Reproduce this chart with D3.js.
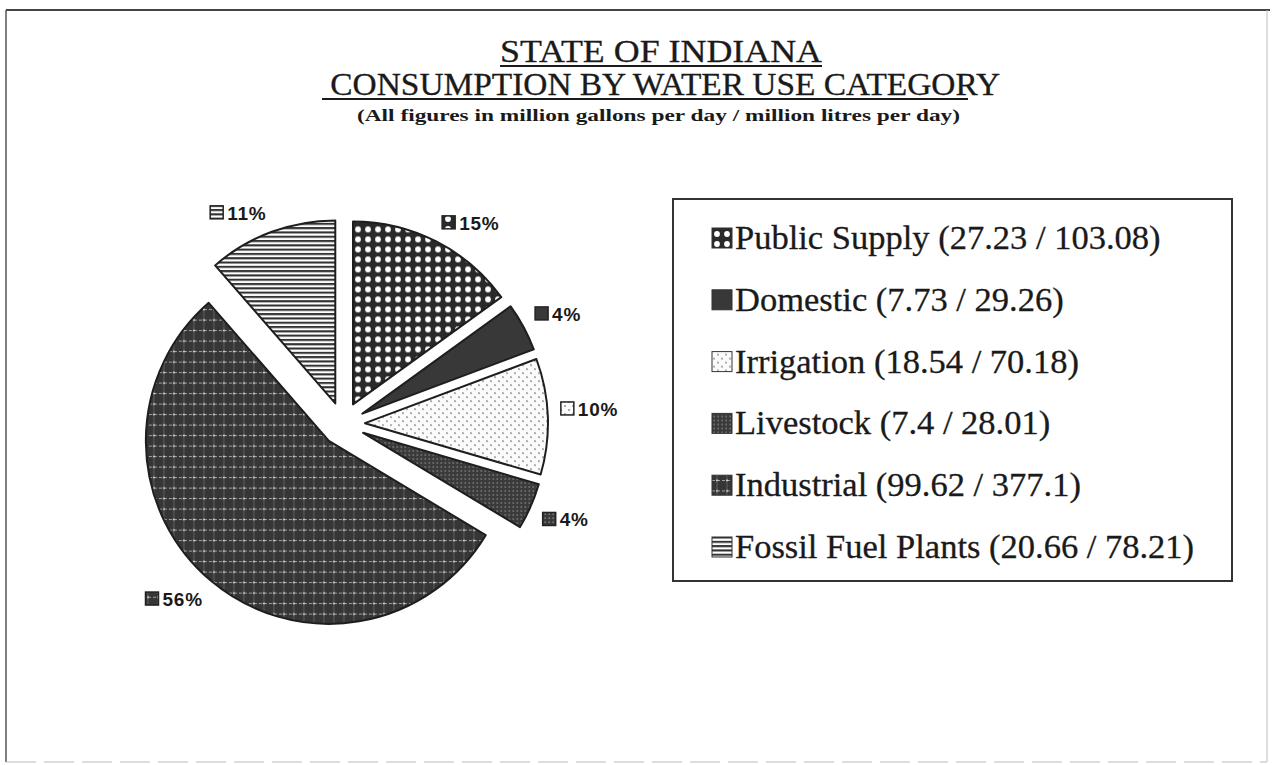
<!DOCTYPE html>
<html>
<head>
<meta charset="utf-8">
<script src="https://cdn.jsdelivr.net/npm/d3@7"></script>
<style>
  html, body { margin: 0; padding: 0; background: #fff; }
  svg { display: block; }
</style>
</head>
<body>
<svg id="chart" width="1273" height="765"></svg>
<script>
// ---- data ----
const categories = ["Public Supply", "Domestic", "Irrigation", "Livestock", "Industrial", "Fossil Fuel Plants"];
const gallonsPerDay = [27.23, 7.73, 18.54, 7.4, 99.62, 20.66];   // million gallons per day
const litresPerDay = [103.08, 29.26, 70.18, 28.01, 377.1, 78.21]; // million litres per day
const percentLabels = ["15%", "4%", "10%", "4%", "56%", "11%"];
const patternIds = ["pPublic", "pDomestic", "pIrrigation", "pLivestock", "pIndustrial", "pFossil"];
const titleLines = ["STATE OF INDIANA", " CONSUMPTION BY WATER USE CATEGORY"];
const subtitle = "(All figures in million gallons per day / million litres per day)";

const data = categories.map((c, i) => ({
  name: c, gal: gallonsPerDay[i], lit: litresPerDay[i], pct: percentLabels[i], pat: patternIds[i]
}));

const svg = d3.select("#chart");
const ink = "#1a1a1a";

// ---- patterns ----
const defs = svg.append("defs");
function pat(id, w, h) {
  return defs.append("pattern").attr("id", id).attr("patternUnits", "userSpaceOnUse")
    .attr("width", w).attr("height", h);
}
let p = pat("pPublic", 10, 10);
p.append("rect").attr("width", 10).attr("height", 10).attr("fill", "#2a2a2a");
p.append("circle").attr("cx", 5).attr("cy", 5).attr("r", 2.9).attr("fill", "#fff");
p = pat("pDomestic", 10, 10);
p.append("rect").attr("width", 10).attr("height", 10).attr("fill", "#383838");
p = pat("pIrrigation", 8, 8);
p.append("rect").attr("width", 8).attr("height", 8).attr("fill", "#fbfbfb");
p.append("circle").attr("cx", 2).attr("cy", 2).attr("r", 0.9).attr("fill", "#8a8a8a");
p.append("circle").attr("cx", 6).attr("cy", 6).attr("r", 0.9).attr("fill", "#8a8a8a");
p = pat("pLivestock", 4, 4);
p.append("rect").attr("width", 4).attr("height", 4).attr("fill", "#3a3a3a");
p.append("rect").attr("x", 1.5).attr("y", 1.5).attr("width", 1.3).attr("height", 1.3).attr("fill", "#9a9a9a");
p = pat("pIndustrial", 10, 10.5);
p.append("rect").attr("width", 10).attr("height", 10.5).attr("fill", "#363636");
p.append("line").attr("x1", 0).attr("x2", 10).attr("y1", 5.2).attr("y2", 5.2)
  .attr("stroke", "#a8a8a8").attr("stroke-width", 1).attr("stroke-dasharray", "3,2");
p.append("line").attr("x1", 5).attr("x2", 5).attr("y1", 0).attr("y2", 10.5)
  .attr("stroke", "#6a6a6a").attr("stroke-width", 0.8);
p.append("rect").attr("x", 4.2).attr("y", 4.4).attr("width", 1.6).attr("height", 1.6).attr("fill", "#eee");
p = pat("pFossil", 10, 4.3);
p.append("rect").attr("width", 10).attr("height", 4.3).attr("fill", "#fff");
p.append("rect").attr("y", 0).attr("width", 10).attr("height", 2.1).attr("fill", "#333");

// ---- frame ----
svg.append("line").attr("x1", 6).attr("x2", 1270).attr("y1", 10).attr("y2", 10)
  .attr("stroke", "#444").attr("stroke-width", 2);
svg.append("line").attr("x1", 6).attr("x2", 6).attr("y1", 10).attr("y2", 762)
  .attr("stroke", "#555").attr("stroke-width", 1.5);
svg.append("line").attr("x1", 1267).attr("x2", 1267).attr("y1", 10).attr("y2", 762)
  .attr("stroke", "#bbb").attr("stroke-width", 1);
svg.append("line").attr("x1", 6).attr("x2", 1267).attr("y1", 762).attr("y2", 762)
  .attr("stroke", "#bbb").attr("stroke-width", 1).attr("stroke-dasharray", "30,8");

// ---- titles ----
const serif = "'Liberation Serif', 'Times New Roman', serif";
svg.append("text").attr("x", 500).attr("y", 62)
  .attr("font-family", serif).attr("font-size", 31).attr("fill", ink)
  .attr("stroke", ink).attr("stroke-width", 0.3)
  .attr("textLength", 322).attr("lengthAdjust", "spacingAndGlyphs").text(titleLines[0]);
svg.append("line").attr("x1", 500).attr("x2", 822).attr("y1", 66).attr("y2", 66)
  .attr("stroke", ink).attr("stroke-width", 1.8);
svg.append("text").attr("x", 322).attr("y", 95)
  .attr("font-family", serif).attr("font-size", 31).attr("fill", ink)
  .attr("stroke", ink).attr("stroke-width", 0.3)
  .attr("textLength", 678).attr("lengthAdjust", "spacingAndGlyphs")
  .style("white-space", "pre").text(titleLines[1]);
svg.append("line").attr("x1", 322).attr("x2", 968).attr("y1", 99).attr("y2", 99)
  .attr("stroke", ink).attr("stroke-width", 1.8);
svg.append("text").attr("x", 357).attr("y", 121)
  .attr("font-family", serif).attr("font-size", 16).attr("font-weight", "bold").attr("fill", ink)
  .attr("textLength", 603).attr("lengthAdjust", "spacingAndGlyphs").text(subtitle);

// ---- pie ----
const cx = 343, cy = 424, R = 183, explode = 22, labelR = 218;
const pie = d3.pie().sort(null).value(d => d.gal).startAngle(0).endAngle(2 * Math.PI);
const arc = d3.arc().innerRadius(0).outerRadius(R);
const arcs = pie(data);
const g = svg.append("g").attr("transform", `translate(${cx},${cy})`);

arcs.forEach(a => {
  const mid = (a.startAngle + a.endAngle) / 2;
  a.dx = Math.sin(mid); a.dy = -Math.cos(mid);
});

g.selectAll("path.slice").data(arcs).join("path")
  .attr("class", "slice")
  .attr("transform", a => `translate(${a.dx * explode},${a.dy * explode})`)
  .attr("d", arc)
  .attr("fill", a => `url(#${a.data.pat})`)
  .attr("stroke", "#1e1e1e").attr("stroke-width", 2).attr("stroke-linejoin", "round");

// labels
const sans = "'Liberation Sans', Arial, sans-serif";
const iconS = 13, lblH = 15;
arcs.forEach(a => {
  const lg = g.append("g");
  const icon = lg.append("rect").attr("width", iconS).attr("height", iconS)
    .attr("fill", `url(#${a.data.pat})`).attr("stroke", "#222").attr("stroke-width", 1.5);
  const txt = lg.append("text").attr("font-family", sans).attr("font-weight", "bold")
    .attr("font-size", 19).attr("letter-spacing", 0.8).attr("fill", ink).text(a.data.pct);
  const tw = txt.node().getComputedTextLength();
  const w = iconS + 4 + tw;
  const px = a.dx * labelR, py = a.dy * labelR;
  const bx = px + (a.dx >= 0 ? 0 : -w);
  const by = py + (a.dy >= 0 ? 0 : -lblH);
  icon.attr("x", bx).attr("y", by + 1);
  txt.attr("x", bx + iconS + 4).attr("y", by + lblH);
});

// ---- legend ----
const lx = 673, ly = 199, lw = 559, lh = 382;
svg.append("rect").attr("x", lx).attr("y", ly).attr("width", lw).attr("height", lh)
  .attr("fill", "#fff").attr("stroke", "#333").attr("stroke-width", 2);
const legY = d3.scaleLinear().domain([0, 5]).range([249, 558]);
const leg = svg.append("g").selectAll("g").data(data).join("g")
  .attr("transform", (d, i) => `translate(712,${legY(i)})`);
leg.append("rect").attr("x", 0).attr("y", -21).attr("width", 20).attr("height", 20)
  .attr("fill", d => `url(#${d.pat})`).attr("stroke", "#333").attr("stroke-width", 1);
leg.append("text").attr("x", 23).attr("y", 0)
  .attr("font-family", serif).attr("font-size", 34.5).attr("fill", ink)
  .attr("stroke", ink).attr("stroke-width", 0.3)
  .text(d => `${d.name} (${d.gal} / ${d.lit})`);
</script>
</body>
</html>
